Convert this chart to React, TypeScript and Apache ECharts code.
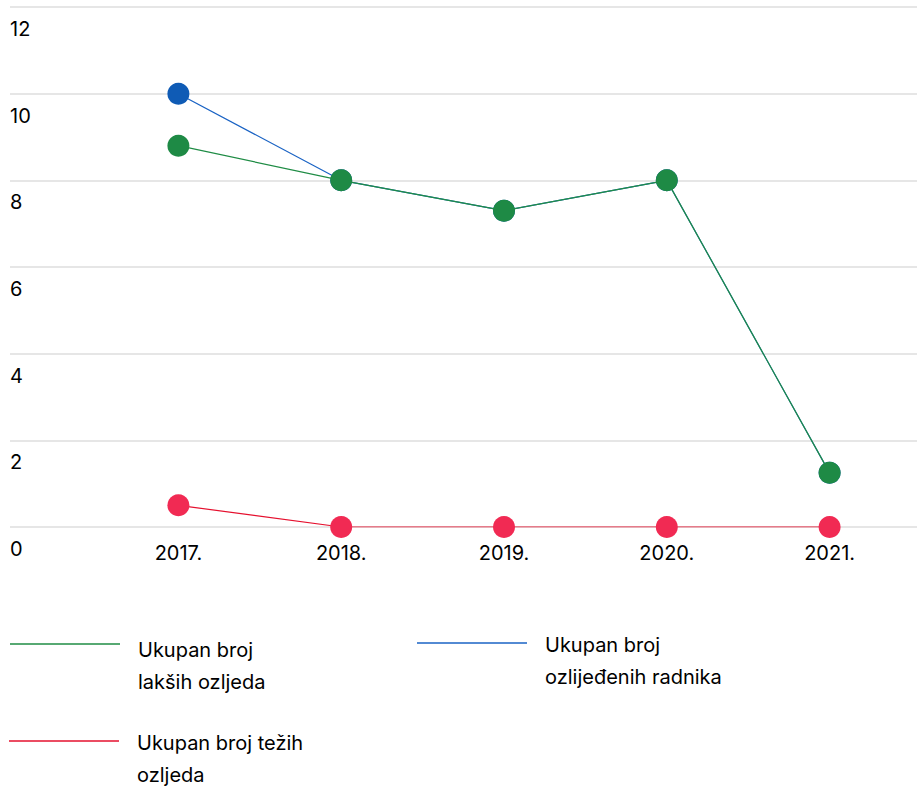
import React, { useEffect, useRef } from "react";
import * as echarts from "echarts";

const categories = ["2017.", "2018.", "2019.", "2020.", "2021."];
const lakseOzljede = [8.8, 8, 7.3, 8, 1.25];
const ozlijedeniRadnici = [10, 8, 7.3, 8, 1.25];
const tezeOzljede = [0.5, 0, 0, 0, 0];
const seriesNames = [
  "Ukupan broj lakših ozljeda",
  "Ukupan broj ozlijeđenih radnika",
  "Ukupan broj težih ozljeda",
];
const legendLabels = [
  "Ukupan broj\nlakših ozljeda",
  "Ukupan broj\nozlijeđenih radnika",
  "Ukupan broj težih\nozljeda",
];
const yMin = 0;
const yMax = 12;
const yStep = 2;

const GREEN = "#1e8a45";
const GREEN_LINE = "#1f8c45";
const BLUE = "#0f5bb5";
const BLUE_LINE = "#1a63c4";
const RED = "#f12a53";
const RED_LINE = "#e5102e";
const FONT = "Inter, 'Noto Sans', sans-serif";
const TEXT = "#000000";
const FS = 20;

export default function App() {
  const ref = useRef<HTMLDivElement>(null);
  useEffect(() => {
    document.body.style.margin = "0";
    if (!ref.current) return;
    const chart = echarts.init(ref.current, undefined, { renderer: "svg" });
    const legendItem = (
      x: number,
      lineY: number,
      textTop: number,
      color: string,
      label: string
    ) => [
      {
        type: "line",
        shape: { x1: x, y1: lineY, x2: x + 110, y2: lineY },
        style: { stroke: color, lineWidth: 1.3 },
      },
      {
        type: "text",
        x: x + 128,
        y: textTop,
        style: {
          text: label,
          font: `${FS}px ${FONT}`,
          fill: TEXT,
          lineHeight: 32,
          verticalAlign: "top",
          align: "left",
        },
      },
    ];
    chart.setOption({
      animation: false,
      grid: [
        { left: 97, right: 6, top: 7, bottom: 260, containLabel: false },
        { left: 10, right: 0, top: 7, bottom: 260, containLabel: false },
      ],
      xAxis: [
        {
          type: "category",
          gridIndex: 0,
          data: categories,
          boundaryGap: true,
          axisLine: { show: false },
          axisTick: { show: false },
          axisLabel: {
            color: TEXT,
            fontSize: FS,
            fontFamily: FONT,
            margin: 16,
          },
        },
        {
          type: "value",
          gridIndex: 1,
          show: false,
        },
      ],
      yAxis: [
        {
          type: "value",
          gridIndex: 0,
          min: yMin,
          max: yMax,
          interval: yStep,
          show: false,
          splitLine: { show: false },
        },
        {
          type: "value",
          gridIndex: 1,
          min: yMin,
          max: yMax,
          interval: yStep,
          axisLine: { show: false },
          axisTick: { show: false },
          splitLine: { show: true, lineStyle: { color: "#dedede", width: 1.5 } },
          axisLabel: {
            inside: true,
            margin: 0,
            color: TEXT,
            fontSize: FS,
            fontFamily: FONT,
            verticalAlign: "top",
            align: "left",
            padding: [12, 0, 0, 0],
          },
        },
      ],
      series: [
        {
          name: seriesNames[1],
          type: "line",
          xAxisIndex: 0,
          yAxisIndex: 0,
          data: ozlijedeniRadnici,
          symbol: "circle",
          symbolSize: 22,
          itemStyle: { color: BLUE },
          lineStyle: { color: BLUE_LINE, width: 1.2 },
          z: 2,
        },
        {
          name: seriesNames[0],
          type: "line",
          xAxisIndex: 0,
          yAxisIndex: 0,
          data: lakseOzljede,
          symbol: "circle",
          symbolSize: 22,
          itemStyle: { color: GREEN },
          lineStyle: { color: GREEN_LINE, width: 1.2 },
          z: 3,
        },
        {
          name: seriesNames[2],
          type: "line",
          xAxisIndex: 0,
          yAxisIndex: 0,
          data: tezeOzljede,
          symbol: "circle",
          symbolSize: 22,
          itemStyle: { color: RED },
          lineStyle: { color: RED_LINE, width: 1.2 },
          z: 4,
        },
      ],
      graphic: [
        ...legendItem(10, 644, 634, GREEN_LINE, legendLabels[0]),
        ...legendItem(417, 643, 629, BLUE_LINE, legendLabels[1]),
        ...legendItem(9, 741, 727, RED_LINE, legendLabels[2]),
      ],
    });
    return () => chart.dispose();
  }, []);
  return <div ref={ref} style={{ width: 917, height: 787 }} />;
}
